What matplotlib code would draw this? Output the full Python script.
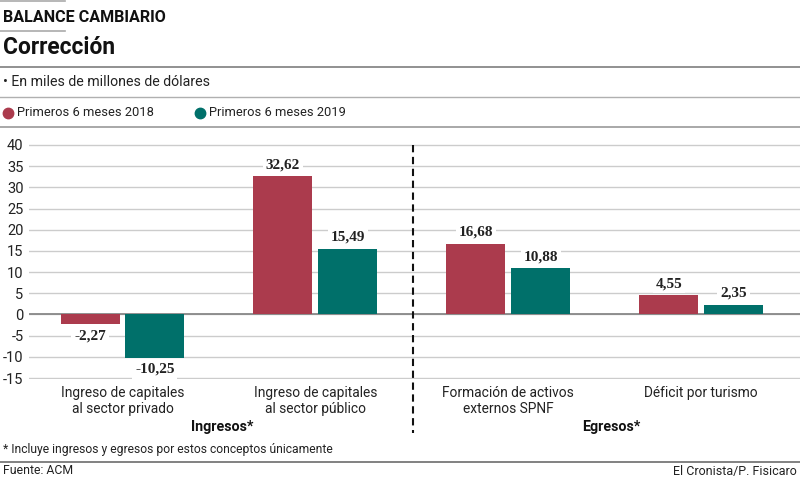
import matplotlib
matplotlib.use("Agg")
import matplotlib.pyplot as plt
from matplotlib.lines import Line2D

plt.rcParams['font.family'] = ['Roboto', 'DejaVu Sans']

categories = ["Ingreso de capitales\nal sector privado",
              "Ingreso de capitales\nal sector público",
              "Formación de activos\nexternos SPNF",
              "Déficit por turismo"]
serie_2018 = [-2.27, 32.62, 16.68, 4.55]
serie_2019 = [-10.25, 15.49, 10.88, 2.35]
yticks = list(range(-15, 45, 5))

RED = '#AB3B4D'
GREEN = '#00706A'
W, H = 800, 479


def fx(x):
    return x / W


def fy(y):
    return 1 - y / H


fig = plt.figure(figsize=(8, 4.79), dpi=100)

# header lines
def hline(y, x0=0, x1=W, color='#999999', lw=1.0):
    fig.add_artist(Line2D([fx(x0), fx(x1)], [fy(y), fy(y)], transform=fig.transFigure,
                          color=color, lw=lw))

hline(1, 0, 65, '#aaaaaa', 1.2)
hline(31, 0, 65, '#aaaaaa', 1.2)
hline(67, color='#888888', lw=1.3)
hline(97, color='#b0b0b0', lw=1.0)
hline(127, color='#999999', lw=1.2)
hline(462, color='#777777', lw=1.3)

fig.text(fx(3), fy(17), "BALANCE CAMBIARIO", fontsize=11.6, fontweight='bold',
         ha='left', va='center', color='#111111')
fig.text(fx(3), fy(48), "Corrección", fontsize=16.4, fontweight='bold',
         ha='left', va='center', color='#111111')
fig.text(fx(3), fy(82), "• En miles de millones de dólares", fontsize=10.2,
         ha='left', va='center', color='#222222')

# legend
fig.add_artist(Line2D([fx(8)], [fy(113)], transform=fig.transFigure, marker='o',
                      markersize=7.5, color=RED, lw=0))
fig.text(fx(17), fy(113), "Primeros 6 meses 2018", fontsize=9.3, ha='left', va='center',
         color='#222222')
fig.add_artist(Line2D([fx(200)], [fy(113)], transform=fig.transFigure, marker='o',
                      markersize=7.5, color=GREEN, lw=0))
fig.text(fx(209), fy(113), "Primeros 6 meses 2019", fontsize=9.3, ha='left', va='center',
         color='#222222')

# plot area
ax = fig.add_axes([fx(29), fy(379.3), fx(800 - 29), (379.3 - 143.7) / H])
ax.set_ylim(-15.3, 40.3)
ax.set_xlim(-0.4845, 3.513)

pos = list(range(len(categories)))
bw = 0.3057
off = 0.168
ax.bar([p - off for p in pos], serie_2018, width=bw, color=RED, zorder=3)
ax.bar([p + off for p in pos], serie_2019, width=bw, color=GREEN, zorder=3)

for p, v in zip(pos, serie_2018):
    ax.annotate(f"{v:.2f}".replace('.', ','), xy=(p - off, v),
                xytext=(0, 8.3 if v > 0 else -8.3), textcoords='offset points',
                ha='center', va='center', fontsize=11, fontweight='bold',
                family='Liberation Serif', color='#222222', zorder=4,
                bbox=dict(fc='white', ec='none', pad=2))
for p, v in zip(pos, serie_2019):
    ax.annotate(f"{v:.2f}".replace('.', ','), xy=(p + off, v),
                xytext=(0, 8.3 if v > 0 else -8.3), textcoords='offset points',
                ha='center', va='center', fontsize=11, fontweight='bold',
                family='Liberation Serif', color='#222222', zorder=4,
                bbox=dict(fc='white', ec='none', pad=2))

ax.set_yticks(yticks)
ax.set_yticklabels([str(t) for t in yticks], fontsize=10.5, color='#222222')
ax.yaxis.grid(True, color='#cccccc', lw=1.0, zorder=0)
ax.axhline(0, color='#888888', lw=1.3, zorder=2)
ax.set_axisbelow(True)
for s in ax.spines.values():
    s.set_visible(False)
ax.tick_params(axis='both', length=0)
ax.tick_params(axis='y', pad=4)

ax.set_xticks(pos)
ax.set_xticklabels(categories, fontsize=9.9, color='#222222', linespacing=1.15)
ax.tick_params(axis='x', pad=5)

# separator
ax.plot([1.505, 1.505], [40, -28], color='#111111', lw=1.5, ls=(0, (3.5, 2.2)),
        clip_on=False, zorder=5)

fig.text(fx(222), fy(427), "Ingresos*", fontsize=10.3, fontweight='bold', ha='center',
         va='center', color='#111111')
fig.text(fx(611), fy(427), "Egresos*", fontsize=10.3, fontweight='bold', ha='center',
         va='center', color='#111111')
fig.text(fx(3), fy(449), "* Incluye ingresos y egresos por estos conceptos únicamente",
         fontsize=8.7, ha='left', va='center', color='#222222')
fig.text(fx(3), fy(471), "Fuente: ACM", fontsize=8.8, ha='left', va='center',
         color='#222222')
fig.text(fx(797), fy(471), "El Cronista/P. Fisicaro", fontsize=9, ha='right',
         va='center', color='#222222')

fig.savefig("out.png", dpi=100)
